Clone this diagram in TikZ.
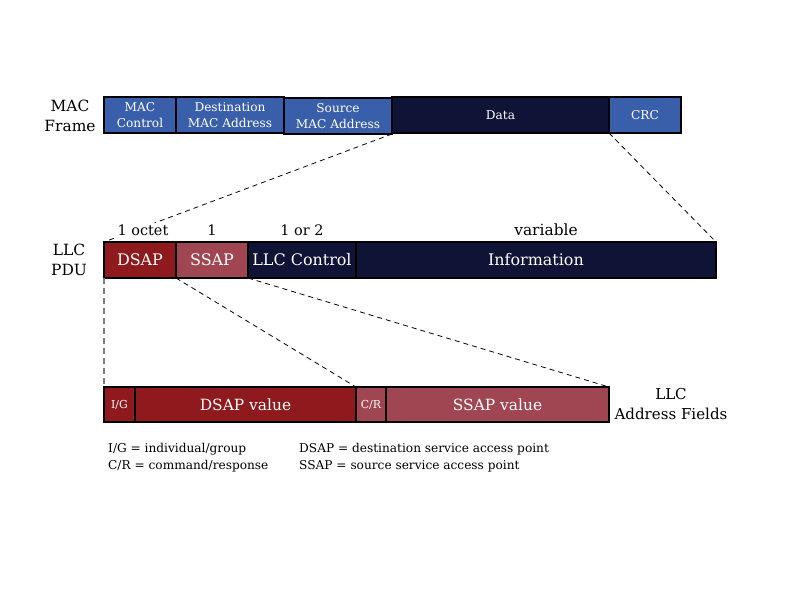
\documentclass[tikz,border=0pt]{standalone}
\usepackage{fontspec}
\setmainfont{DejaVu Serif}
\definecolor{macblue}{RGB}{58,95,170}
\definecolor{navy}{RGB}{15,20,55}
\definecolor{dred}{RGB}{142,26,30}
\definecolor{lred}{RGB}{160,70,82}
\begin{document}
\begin{tikzpicture}[x=1bp,y=-1bp,
  field/.style={draw=black,line width=1.5bp,text=white,inner sep=0pt,outer sep=0pt,anchor=north west,align=center},
  macf/.style={field,minimum height=36bp,font=\fontsize{12.2}{15.5}\selectfont},
  llcf/.style={field,minimum height=36bp,font=\fontsize{16}{18}\selectfont},
  addrf/.style={field,minimum height=35bp},
  lbl/.style={align=center,font=\fontsize{15.5}{20.5}\selectfont,inner sep=1bp},
  sizelbl/.style={fill=white,font=\fontsize{14.5}{17}\selectfont,inner sep=1.5bp},
  legend/.style={anchor=west,align=left,inner sep=0pt,font=\fontsize{12.2}{17}\selectfont},
  conn/.style={dashed,line width=0.8bp,dash pattern=on 5bp off 4bp},
  connv/.style={dashed,line width=1.8bp,gray,dash pattern=on 6bp off 4bp}]
\useasboundingbox (0,0) rectangle (792,612);
% MAC frame
\node[macf,fill=macblue,minimum width=72bp] (macctl) at (104,97) {MAC\\Control};
\node[macf,fill=macblue,minimum width=108bp] (dst) at (176,97) {Destination\\MAC Address};
\node[macf,fill=macblue,minimum width=108bp] (src) at (284,98) {Source\\MAC Address};
\node[macf,fill=navy,minimum width=217bp] (data) at (392,97) {Data};
\node[macf,fill=macblue,minimum width=72bp] (crc) at (609,97) {CRC};
\node[lbl] (maclbl) at (70,116) {MAC\\Frame};
% LLC PDU
\node[llcf,fill=dred,minimum width=72bp] (dsap) at (104,242) {DSAP};
\node[llcf,fill=lred,minimum width=72bp] (ssap) at (176,242) {SSAP};
\node[llcf,fill=navy,minimum width=108bp] (llcc) at (248,242) {LLC Control};
\node[llcf,fill=navy,minimum width=360bp] (info) at (356,242) {Information};
\node[lbl] (pdulbl) at (69,260) {LLC\\PDU};
% address fields
\node[addrf,fill=dred,minimum width=31bp,font=\fontsize{11}{13}\selectfont] (ig) at (104,387) {I/G};
\node[addrf,fill=dred,minimum width=221bp,font=\fontsize{15.5}{18}\selectfont] (dval) at (135,387) {DSAP value};
\node[addrf,fill=lred,minimum width=30bp,font=\fontsize{11}{13}\selectfont] (cr) at (356,387) {C/R};
\node[addrf,fill=lred,minimum width=223bp,font=\fontsize{15.5}{18}\selectfont] (sval) at (386,387) {SSAP value};
\node[lbl,font=\fontsize{15.1}{20}\selectfont] (addrlbl) at (671,404) {LLC\\Address Fields};
% connectors
\draw[conn] (src.south east) -- (dsap.north west);
\draw[conn] (crc.south west) -- (info.north east);
\draw[connv] (dsap.south west) -- (ig.north west);
\draw[conn] (dsap.south east) -- (cr.north west);
\draw[conn] (ssap.south east) -- (sval.north east);
% size labels
\node[sizelbl] (s1) at (143,230) {1 octet};
\node[sizelbl] (s2) at (212,230) {1};
\node[sizelbl] (s3) at (302,230) {1 or 2};
\node[sizelbl,font=\fontsize{15.5}{17}\selectfont] (s4) at (546,230) {variable};
% legend
\node[legend] (leg1) at (108,449) {I/G = individual/group};
\node[legend] (leg2) at (108,466) {C/R = command/response};
\node[legend] (leg3) at (299,449) {DSAP = destination service access point};
\node[legend] (leg4) at (299,466) {SSAP = source service access point};
\end{tikzpicture}
\end{document}
